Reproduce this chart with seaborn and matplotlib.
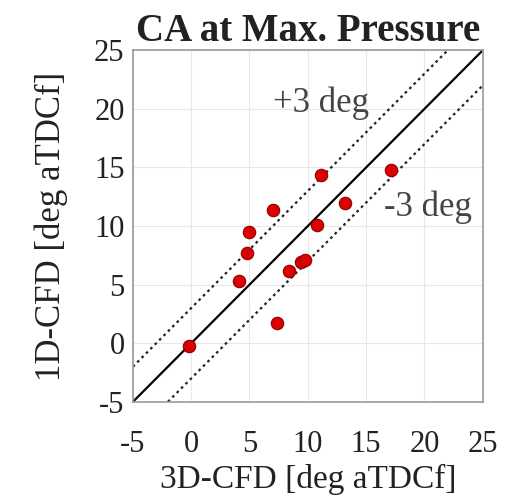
import numpy as np
import pandas as pd
import matplotlib
matplotlib.use("Agg")
import matplotlib.pyplot as plt
import seaborn as sns

cfd3d = [-0.2, 4.1, 4.8, 5.0, 7.0, 7.4, 8.4, 9.4, 9.8, 10.8, 11.1, 13.2, 17.1]
cfd1d = [-0.2, 5.3, 7.7, 9.5, 11.4, 1.7, 6.2, 6.9, 7.1, 10.1, 14.4, 12.0, 14.8]
ticks = [-5, 0, 5, 10, 15, 20, 25]
offset = 3

sns.set_theme(style="whitegrid")
plt.rcParams['font.family'] = ['Liberation Serif', 'DejaVu Serif']
plt.rcParams['axes.unicode_minus'] = False

fig = plt.figure(figsize=(5.23, 4.98), dpi=100)
ax = fig.add_axes([0.254, 0.193, 0.669, 0.706])

df = pd.DataFrame({"x": cfd3d, "y": cfd1d})
line = np.array([-5, 25])
ax.plot(line, line, color="black", lw=1.6, zorder=2)
ax.plot(line, line + offset, color="#222222", lw=1.6, ls=(0, (1.2, 1.6)), zorder=2)
ax.plot(line, line - offset, color="#222222", lw=1.6, ls=(0, (1.2, 1.6)), zorder=2)
sns.scatterplot(data=df, x="x", y="y", ax=ax, color="#dd0000", edgecolor="#8a0000",
                linewidth=0.8, s=80, zorder=3)

ax.set_xlim(-5, 25)
ax.set_ylim(-5, 25)
ax.set_xticks(ticks)
ax.set_yticks(ticks)
ax.tick_params(axis="both", labelsize=22, colors="#555555", direction="in", length=4,
               labelcolor="#222222")
ax.tick_params(axis="x", pad=20)
ax.tick_params(axis="y", pad=6)
ax.grid(True, color="#e8e8e8", lw=0.8)
for s in ax.spines.values():
    s.set_color("#999999")
    s.set_linewidth(1.2)
ax.set_facecolor("white")

ax.text(11.1, 20.5, "+3 deg", fontsize=25, color="#444444", ha="center", va="center")
ax.text(20.3, 11.6, "-3 deg", fontsize=25, color="#444444", ha="center", va="center")

ax.set_xlabel("3D-CFD [deg aTDCf]", fontsize=24, color="#222222", labelpad=4)
ax.set_ylabel("1D-CFD [deg aTDCf]", fontsize=25, color="#222222", labelpad=19)
ax.set_title("CA at Max. Pressure", fontsize=28, fontweight="bold", color="#222222", pad=7)

fig.savefig("out.png", dpi=100)
